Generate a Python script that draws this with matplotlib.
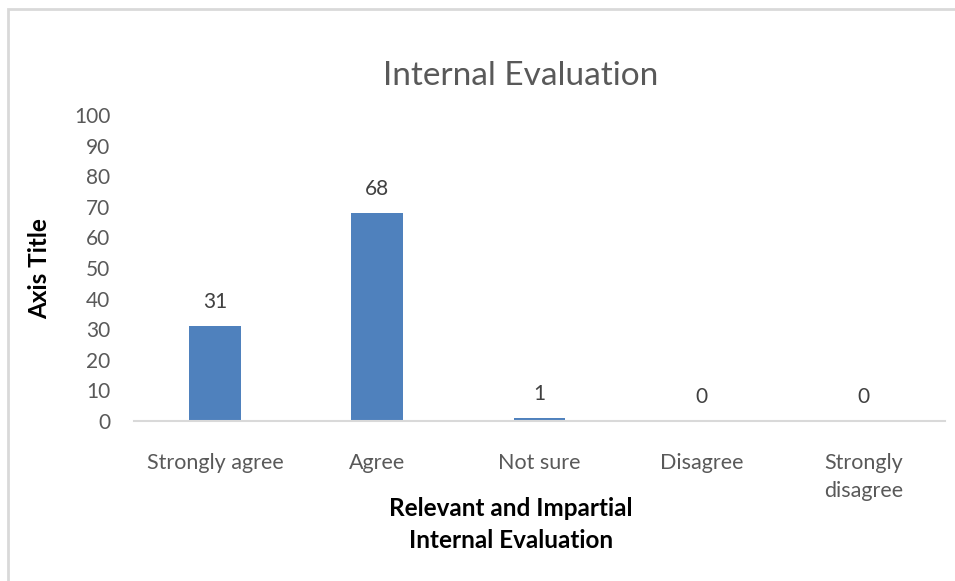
import matplotlib.pyplot as plt
from matplotlib.patches import Rectangle

plt.rcParams['font.family'] = ['Lato', 'DejaVu Sans']

# survey responses
categories = ['Strongly agree', 'Agree', 'Not sure', 'Disagree', 'Strongly\ndisagree']
counts = [31, 68, 1, 0, 0]
yticks = [0, 10, 20, 30, 40, 50, 60, 70, 80, 90, 100]

fig = plt.figure(figsize=(9.55, 5.81), dpi=100)
ax = fig.add_axes([0.1403, 0.2754, 0.8492, 0.5267])

x = range(len(categories))
bars = ax.bar(x, counts, width=0.32, color='#4f81bd', zorder=2)

for b, v in zip(bars, counts):
    ax.text(b.get_x() + b.get_width() / 2, v + 4.5, str(v),
            ha='center', va='bottom', fontsize=15, color='#404040')

ax.set_xlim(-0.5, len(categories) - 0.5)
ax.set_ylim(0, 100)
ax.set_yticks(yticks)
ax.set_xticks(list(x))
ax.set_xticklabels(categories, fontsize=15.5, color='#595959', linespacing=1.5)
ax.tick_params(axis='y', labelsize=15, labelcolor='#595959', length=0, pad=17)
ax.tick_params(axis='x', length=0, pad=23)

for s in ['top', 'right', 'left']:
    ax.spines[s].set_visible(False)
ax.spines['bottom'].set_color('#d9d9d9')
ax.spines['bottom'].set_linewidth(1.5)

fig.text(0.545, 0.87, 'Internal Evaluation', ha='center', va='center',
         fontsize=24, color='#595959')
fig.text(0.042, 0.538, 'Axis Title', rotation=90, ha='center', va='center',
         fontsize=17.5, fontweight='bold', color='black')
fig.text(0.535, 0.097, 'Relevant and Impartial\nInternal Evaluation',
         ha='center', va='center', fontsize=17.5, fontweight='bold',
         color='black', linespacing=1.45)

# chart frame
fig.patches.append(Rectangle((7.5 / 955, -0.1), 1.2, 1 - 8.5 / 581 + 0.1,
                             transform=fig.transFigure, fill=False,
                             edgecolor='#d9d9d9', linewidth=2))

fig.savefig('out.png', dpi=100)
